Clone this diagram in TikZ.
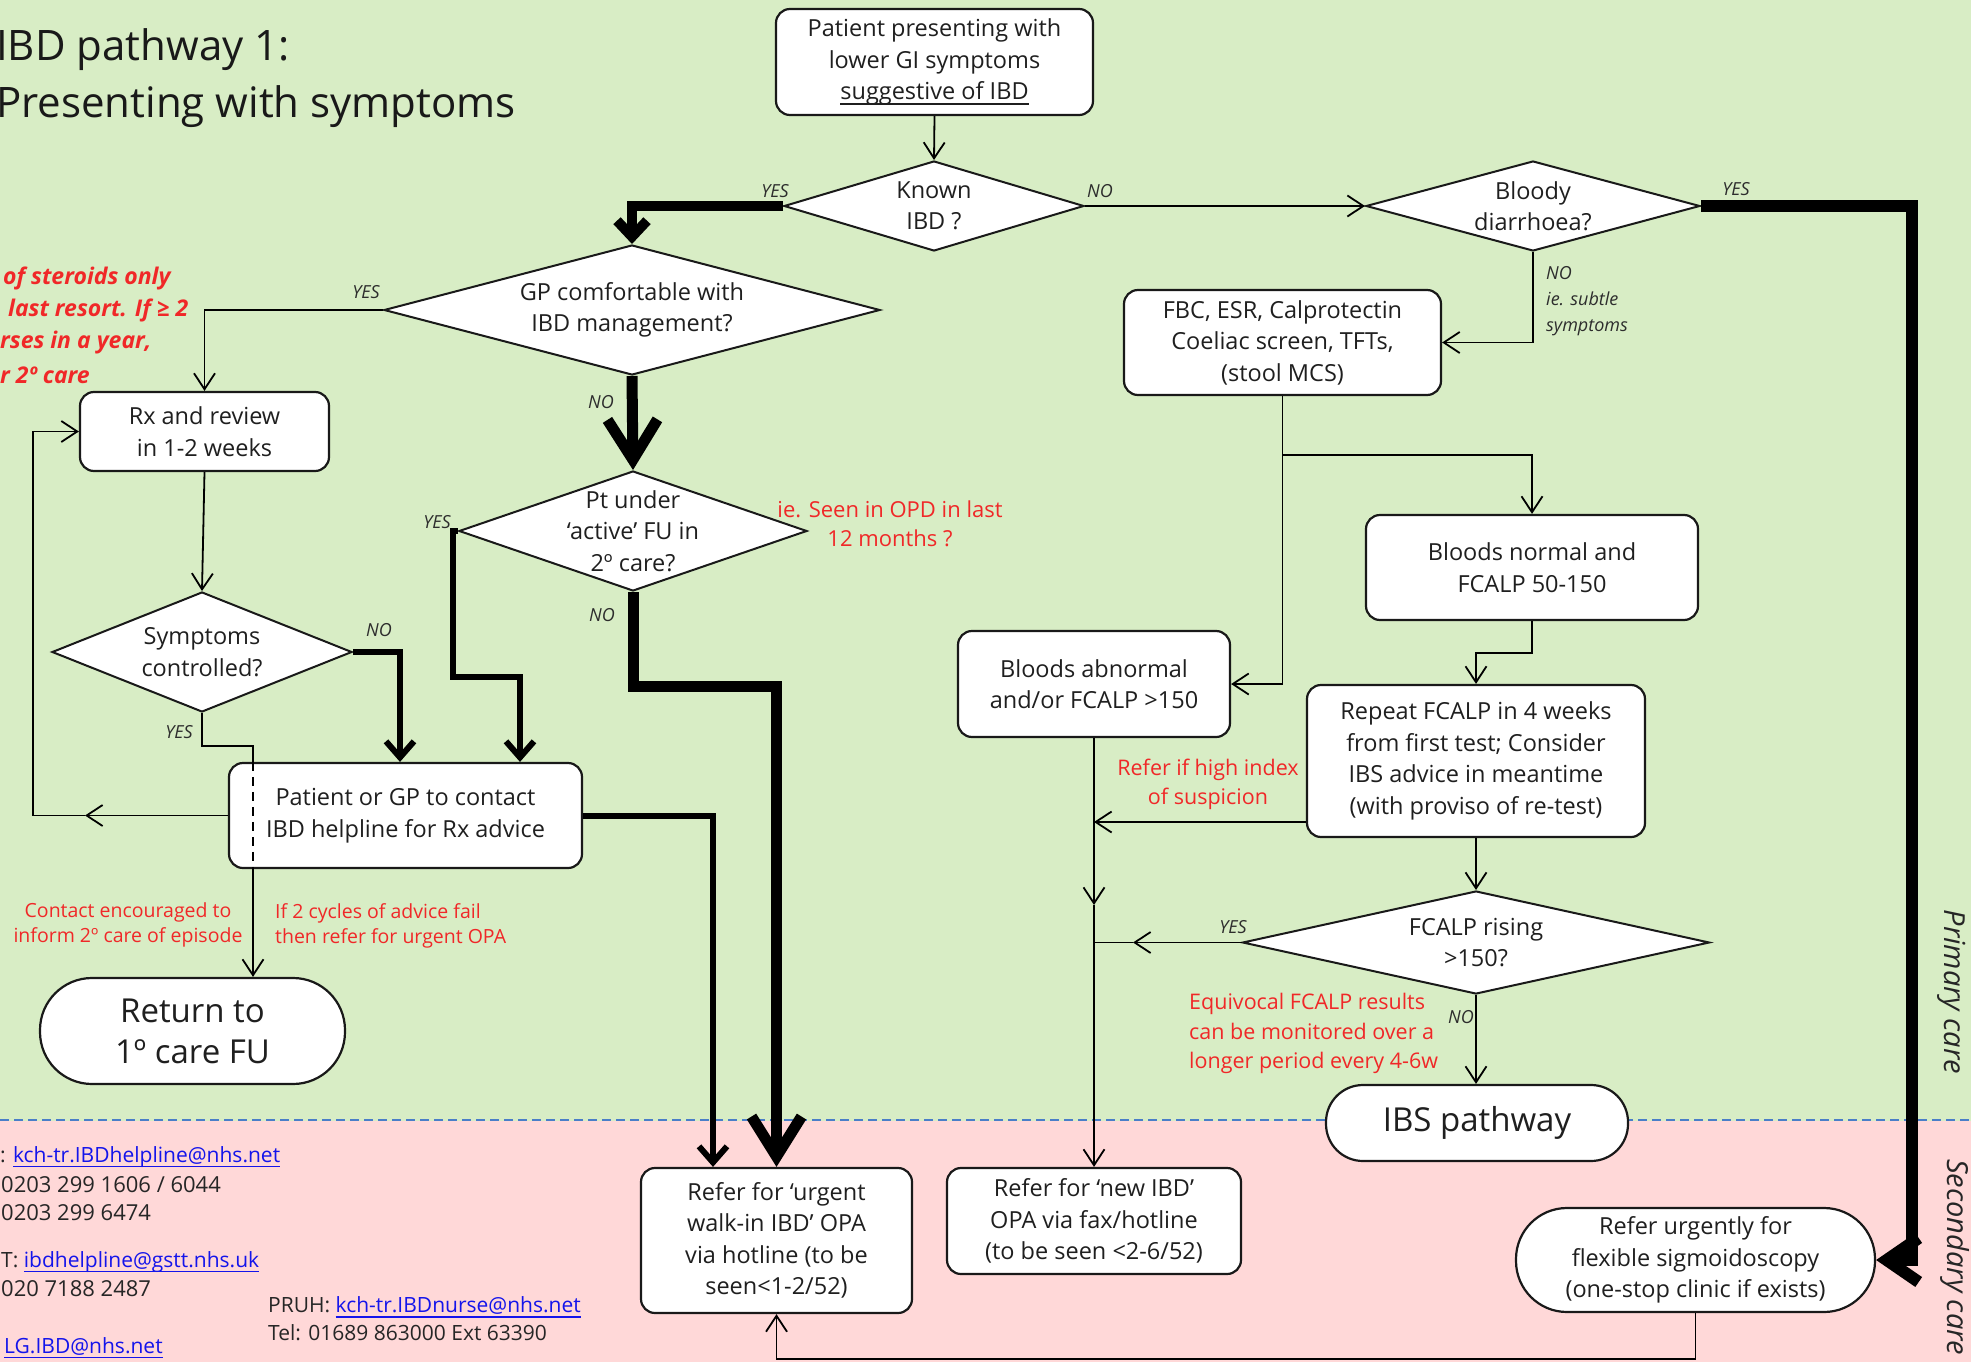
\documentclass[tikz,border=0pt]{standalone}
\usepackage{fontspec}
\setmainfont{Open Sans}
\usetikzlibrary{arrows.meta,shapes.geometric,calc}
\definecolor{bggreen}{RGB}{216,237,197}
\definecolor{bgpink}{RGB}{255,216,216}
\definecolor{dashblue}{RGB}{74,126,200}
\definecolor{redtxt}{RGB}{240,40,40}
\definecolor{lblgray}{RGB}{45,45,45}
\definecolor{lnkblue}{RGB}{20,20,235}
\newcommand\myul[1]{\setbox0=\hbox{#1}\rlap{\rule[-5pt]{\wd0}{1.6pt}}\box0}
\newcommand\lnk[1]{\textcolor{lnkblue}{\myul{#1}}}
\begin{document}
\begin{tikzpicture}[x=1pt,y=-1pt,
  box/.style={draw=black!90, line width=2.2pt, fill=white, rounded corners=14pt, inner sep=0pt, align=center, font=\fontsize{23.5}{31.5}\selectfont, text=black!88},
  dia/.style={draw=black!90, line width=2pt, fill=white, diamond, inner sep=0pt},
  dtext/.style={font=\fontsize{23.5}{31.5}\selectfont, text=black!88, align=center, inner sep=0pt},
  yn/.style={font=\itshape\fontsize{18}{26}\selectfont, text=lblgray, inner sep=0pt},
  rednote/.style={font=\fontsize{21.5}{29.5}\selectfont, text=redtxt, align=center, inner sep=0pt},
  redsmall/.style={font=\fontsize{19.5}{24.5}\selectfont, text=redtxt, inner sep=0pt},
  sterstyle/.style={font=\bfseries\itshape\fontsize{23}{32}\selectfont, text=redtxt, inner sep=0pt},
  ctext/.style={font=\fontsize{21}{28}\selectfont, text=black!85, inner sep=0pt},
  cnum/.style={font=\fontsize{22}{28}\selectfont, text=black!85, inner sep=0pt},
  lnthin/.style={line width=1.8pt},
  cthin/.style={line width=1.8pt, -{Straight Barb[length=16pt,width=21pt]}},
  cmed/.style={line width=6pt, -{Straight Barb[length=16pt,width=28pt]}},
  cthickA/.style={line width=10pt, -{Straight Barb[length=16pt,width=30pt]}},
  cbig/.style={line width=11pt, -{Straight Barb[length=40pt,width=50pt]}},
  cbloody/.style={line width=12pt, -{Straight Barb[length=32pt,width=44pt]}}
]
\useasboundingbox (0,0) rectangle (1971,1362);
\fill[bggreen] (0,0) rectangle (1971,1121);
\fill[bgpink] (0,1121) rectangle (1971,1362);
\draw[dashblue, line width=2pt, dash pattern=on 9pt off 5pt] (0,1120) -- (1971,1120);

% title
\node[font=\fontsize{42}{57}\selectfont, align=left, anchor=west, inner sep=0pt, text=black!90] (title) at (-4,78.5) {IBD pathway 1:\\Presenting with symptoms};

% nodes
\node[box, minimum width=317pt, minimum height=106pt] (patient) at (934.5,62) {Patient presenting with\\lower GI symptoms\\\myul{suggestive of IBD}};
\node[dia, minimum width=300pt, minimum height=90pt, label={[dtext]center:Known\\IBD ?}] (known) at (934,206) {};
\node[dia, minimum width=334pt, minimum height=90pt, label={[dtext]center:Bloody\\diarrhoea?}] (bloody) at (1533,206) {};
\node[dia, minimum width=496pt, minimum height=130pt, label={[dtext]center:GP comfortable with\\IBD management?}] (gp) at (632,310) {};
\node[box, minimum width=317pt, minimum height=105pt] (fbc) at (1282.5,342.5) {FBC, ESR, Calprotectin\\Coeliac screen, TFTs,\\(stool MCS)};
\node[box, minimum width=249pt, minimum height=79pt] (rx) at (204.5,431.5) {Rx and review\\in 1-2 weeks};
\node[dia, minimum width=348pt, minimum height=120pt, label={[dtext]center:Pt under\\‘active’ FU in\\2º care?}] (pt) at (633,531) {};
\node[box, minimum width=332pt, minimum height=105pt] (bnormal) at (1532,567.5) {Bloods normal and\\FCALP 50-150};
\node[box, minimum width=272pt, minimum height=106pt] (babn) at (1094,684) {Bloods abnormal\\and/or FCALP >150};
\node[dia, minimum width=300pt, minimum height=120pt, label={[dtext]center:Symptoms\\controlled?}] (sympt) at (202,652) {};
\node[box, minimum width=338pt, minimum height=152pt] (repeat) at (1476,761) {Repeat FCALP in 4 weeks\\from first test; Consider\\IBS advice in meantime\\(with proviso of re-test)};
\node[box, minimum width=353pt, minimum height=105pt] (pgp) at (405.5,815.5) {Patient or GP to contact\\IBD helpline for Rx advice};
\node[dia, minimum width=467pt, minimum height=103pt, label={[dtext]center:FCALP rising\\>150?}] (fcalp) at (1476,942.5) {};
\node[box, rounded corners=52pt, minimum width=305pt, minimum height=106pt, font=\fontsize{33}{41}\selectfont] (ret) at (192.5,1031) {Return to\\1º care FU};
\node[box, rounded corners=37pt, minimum width=302pt, minimum height=76pt, font=\fontsize{33}{41}\selectfont] (ibs) at (1477,1123) {IBS pathway};
\node[box, minimum width=271pt, minimum height=145pt] (urgent) at (776.5,1240.5) {Refer for ‘urgent\\walk-in IBD’ OPA\\via hotline (to be\\seen<1-2/52)};
\node[box, minimum width=294pt, minimum height=106pt] (newibd) at (1094,1221) {Refer for ‘new IBD’\\OPA via fax/hotline\\(to be seen <2-6/52)};
\node[box, rounded corners=51pt, minimum width=359pt, minimum height=104pt] (sigmo) at (1695.5,1260) {Refer urgently for\\flexible sigmoidoscopy\\(one-stop clinic if exists)};

% coordinates
\coordinate (bcor) at (1912,1260);
\coordinate (j1) at (1282.5,455);
\coordinate (sy1) at (202,746);
\coordinate (sy2) at (253,746);
\coordinate (lpm) at (85,815.5);
\coordinate (lpc) at (33,815.5);
\coordinate (py1) at (453,677);
\coordinate (vr) at (1094,822);
\coordinate (vm) at (1094,905);
\coordinate (fy) at (1133,942.5);
\coordinate (fy2) at (1094,942.5);
\coordinate (bt) at (1695.5,1359);

% connectors
\draw[cthin] (patient.south) -- (known.north);
\draw[cthickA] (known.west) -| (gp.north);
\draw[cthin] (known.east) -- (bloody.west);
\draw[cbloody] (bloody.east) -| (bcor) -- (sigmo.east);
\draw[cthin] (bloody.south) |- (fbc.east);
\draw[cthin] (gp.west) -| (rx.north);
\draw[cbig] (gp.south) -- (pt.north);
\draw[cthin] (rx.south) -- (sympt.north);
\draw[cmed] (sympt.east) -| ([xshift=-5.5pt]pgp.north);
\draw[lnthin] (sympt.south) -- (sy1) -- (sy2) -- (sy2 |- pgp.north);
\draw[lnthin, dash pattern=on 9pt off 6pt] (sy2 |- pgp.north) -- (sy2 |- pgp.south);
\draw[cthin] (sy2 |- pgp.south) -- (sy2 |- ret.north);
\draw[cthin] (pgp.west) -- (lpm);
\draw[cthin] (lpm) -- (lpc) |- (rx.west);
\draw[cmed] (pt.west) -| (py1) -| ([xshift=114.5pt]pgp.north);
\draw[cbig] (pt.south) -- ($(pt.south)+(0,94)$) -| (urgent.north);
\draw[cmed] (pgp.east) -| ([xshift=-63.5pt]urgent.north);
\draw[lnthin] (fbc.south) -- (j1);
\draw[cthin] (j1) -| (bnormal.north);
\draw[cthin] (j1) |- (babn.east);
\draw[cthin] (bnormal.south) -- ++(0,32) -| (repeat.north);
\draw[cthin] (repeat.south) -- (fcalp.north);
\draw[cthin] (fcalp.south) -- (ibs.north -| fcalp.south);
\draw[cthin] ([yshift=-61pt]repeat.west) -- (vr);
\draw[cthin] (babn.south) -- (vm);
\draw[cthin] (vm) -- (newibd.north);
\draw[cthin] (fcalp.west) -- (fy);
\draw[lnthin] (fy) -- (fy2);
\draw[cthin] (sigmo.south) -- (bt) -| (urgent.south);

% yes / no labels
\node[yn] (lknyes) at (775,191) {YES};
\node[yn] (lknno) at (1100,191) {NO};
\node[yn] (lblyes) at (1736,189) {YES};
\node[yn, anchor=west, align=left] (lblno) at (1546,301) {NO\\ie. subtle\\symptoms};
\node[yn] (lgpyes) at (366,292) {YES};
\node[yn] (lgpno) at (601,402) {NO};
\node[yn] (lptyes) at (437,522) {YES};
\node[yn] (lptno) at (602,615) {NO};
\node[yn] (lsyno) at (379,630) {NO};
\node[yn] (lsyyes) at (179,732) {YES};
\node[yn] (lfcyes) at (1233,927) {YES};
\node[yn] (lfcno) at (1461,1017) {NO};

% red notes
\node[rednote, font=\fontsize{22}{29}\selectfont] (nopd) at (890,523.5) {ie. Seen in OPD in last\\12 months ?};
\node[rednote] (nrefer) at (1208,784.5) {Refer if high index\\of suspicion};
\node[rednote, align=left, anchor=west] (nequiv) at (1189,1033.5) {Equivocal FCALP results\\can be monitored over a\\longer period every 4-6w};
\node[redsmall, align=center] (ncontact) at (128,925) {Contact encouraged to\\inform 2º care of episode};
\node[redsmall, align=left, anchor=west] (ncycles) at (275,926) {If 2 cycles of advice fail\\then refer for urgent OPA};
\node[sterstyle, anchor=west] (st1) at (3,278) {of steroids only};
\node[sterstyle, anchor=west] (st2) at (8,310) {last resort. If ≥ 2};
\node[sterstyle, anchor=west] (st3) at (0,343) {rses in a year,};
\node[sterstyle, anchor=west] (st4) at (0,375) {r 2º care};

% contacts
\node[ctext, anchor=west] (c1) at (0,1157) {: \lnk{kch-tr.IBDhelpline@nhs.net}};
\node[cnum, anchor=west] (c2) at (1,1185) {0203 299 1606 / 6044};
\node[cnum, anchor=west] (c3) at (1,1213) {0203 299 6474};
\node[ctext, anchor=west] (c4) at (1,1262) {T: \lnk{ibdhelpline@gstt.nhs.uk}};
\node[cnum, anchor=west] (c5) at (1,1289) {020 7188 2487};
\node[ctext, anchor=west] (c6) at (4,1348) {\lnk{LG.IBD@nhs.net}};
\node[ctext, anchor=west, align=left] (c7) at (268,1319) {PRUH: \lnk{kch-tr.IBDnurse@nhs.net}\\Tel: 01689 863000 Ext 63390};

% side labels
\node[rotate=-90, font=\itshape\fontsize{29}{34}\selectfont, text=black!85, inner sep=0pt] (prim) at (1952,992) {Primary care};
\node[rotate=-90, anchor=west, font=\itshape\fontsize{29}{34}\selectfont, text=black!85, inner sep=0pt] (sec) at (1955,1159) {Secondary care};
\end{tikzpicture}
\end{document}
